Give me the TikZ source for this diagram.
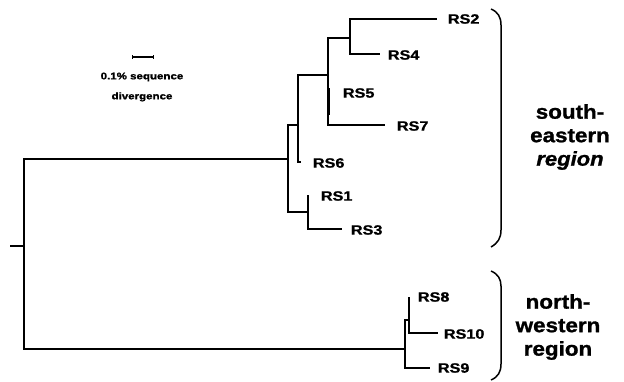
\documentclass[tikz,border=0pt]{standalone}
\usepackage{fontspec}
\setmainfont{Liberation Sans}
\newfontfamily\labfont[FakeStretch=1.2,FakeBold=1.3]{Liberation Sans Bold}
\newfontfamily\labfontit[FakeStretch=1.1,FakeBold=1.2]{Liberation Sans Bold Italic}
\newfontfamily\regfont[FakeStretch=1.12,FakeBold=1.2]{Liberation Sans Bold}
\begin{document}
\begin{tikzpicture}[x=1pt,y=-1pt,line width=1.8pt,
  leaf/.style={anchor=west,inner sep=0pt,font=\labfont\fontsize{13.5}{14}\selectfont},
  reg/.style={align=center,inner sep=0pt,font=\regfont\fontsize{20}{23.5}\selectfont},
  small/.style={align=center,inner sep=0pt,font=\labfont\fontsize{9.6}{20}\selectfont},
  brack/.style={line width=1.5pt}]
\useasboundingbox (0,0) rectangle (624,381);
% internal nodes
\coordinate (root) at (10,246);
\coordinate (n0) at (24,246);
\coordinate (A) at (288,159);
\coordinate (B) at (298,125);
\coordinate (C) at (328,75);
\coordinate (D) at (350,38);
\coordinate (E) at (308,212);
\coordinate (F) at (405,349);
\coordinate (G) at (409,320);
% tips
\coordinate (t2) at (437,19);
\coordinate (t4) at (380,54);
\coordinate (t5) at (328,88);
\coordinate (t7) at (385,125);
\coordinate (t6) at (301,162);
\coordinate (t1) at (308,195);
\coordinate (t3) at (342,229);
\coordinate (t8) at (409,297);
\coordinate (t10) at (438,333);
\coordinate (t9) at (430,368);
% labels
\node[leaf] (rs2) at (447,19) {RS2};
\node[leaf] (rs4) at (387,55) {RS4};
\node[leaf] (rs5) at (342,93) {RS5};
\node[leaf] (rs7) at (396,126) {RS7};
\node[leaf] (rs6) at (312,163) {RS6};
\node[leaf] (rs1) at (320,196) {RS1};
\node[leaf] (rs3) at (350,230) {RS3};
\node[leaf] (rs8) at (417,297) {RS8};
\node[leaf] (rs10) at (443,334) {RS10};
\node[leaf] (rs9) at (437,368) {RS9};
% tree
\draw (root) -- (n0);
\draw (n0) |- (A);
\draw (n0) |- (F);
\draw (A) |- (B);
\draw (A) |- (E);
\draw (B) |- (C);
\draw (B) |- (t6);
\draw (C) |- (D);
\draw (C) |- (t7);
\draw[line width=3pt] (t5) -- ++(0,27);
\draw (D) |- (t2);
\draw (D) |- (t4);
\draw (E) -- (t1);
\draw (E) |- (t3);
\draw (F) |- (G);
\draw (F) |- (t9);
\draw (G) -- (t8);
\draw (G) |- (t10);
% scale bar
\coordinate (s1) at (132,57);
\coordinate (s2) at (153,57);
\draw[line width=1.6pt] (s1) -- (s2);
\draw[line width=1pt] (s1) ++(0,-2) -- ++(0,4) (s2) ++(0,-2) -- ++(0,4);
\node[small] (scale) at (142,87) {0.1\% sequence\\divergence};
% brackets
\coordinate (se1) at (491,9);
\coordinate (se2) at (491,247);
\draw[brack] (se1) .. controls (498,12) and (501,17) .. (501,25) -- (501,230) .. controls (501,238) and (498,243) .. (se2);
\coordinate (nw1) at (491,271);
\coordinate (nw2) at (491,380);
\draw[brack] (nw1) .. controls (498,274) and (501,279) .. (501,286) -- (501,364) .. controls (501,372) and (498,377) .. (nw2);
\node[reg] (sereg) at (570,137) {south-\\eastern\\{\labfontit region}};
\node[reg] (nwreg) at (558,327) {north-\\western\\region};
\end{tikzpicture}
\end{document}
